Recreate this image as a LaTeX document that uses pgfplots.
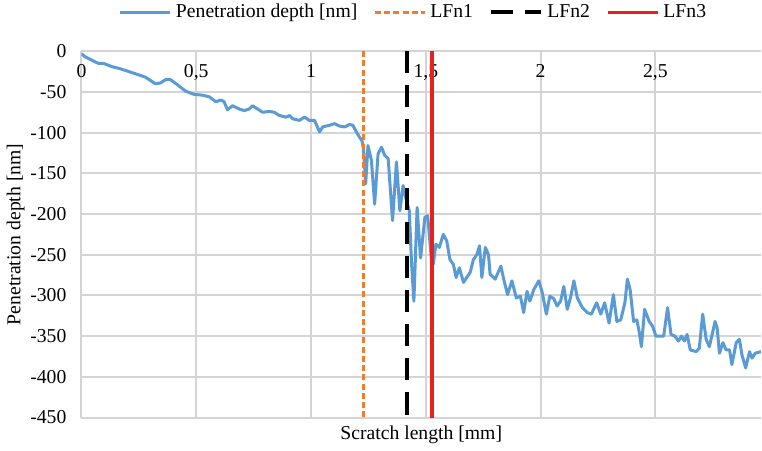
\documentclass[border=0pt]{standalone}
\usepackage{fontspec}
\setmainfont{Liberation Serif}
\usepackage{pgfplots}
\pgfplotsset{compat=1.18}

\definecolor{depthblue}{RGB}{91,155,213}
\definecolor{lforange}{RGB}{237,125,49}
\definecolor{lfred}{RGB}{232,33,30}
\definecolor{gridgray}{RGB}{212,212,212}

\begin{document}
\begin{tikzpicture}
\begin{axis}[
    scale only axis,
    width=338.5pt, height=182.5pt,
    xmin=0, xmax=2.96, ymin=-450, ymax=0,
    font=\fontsize{9.8}{11}\selectfont,
    axis line style={draw=none},
    tick style={draw=none},
    xtick={0,0.5,1,1.5,2,2.5},
    xticklabels={0,{0,5},1,{1,5},2,{2,5}},
    xticklabel pos=upper,
    xticklabel style={anchor=north, yshift=-3pt},
    ytick={-450,-400,-350,-300,-250,-200,-150,-100,-50,0},
    yticklabels={-450,-400,-350,-300,-250,-200,-150,-100,-50,0},
    yticklabel style={xshift=-4pt},
    grid=major,
    major grid style={gridgray, line width=1pt},
    xlabel={Scratch length [mm]},
    ylabel={Penetration depth [nm]},
    xlabel style={at={(0.5,0)}, anchor=north, yshift=-0.5pt},
    ylabel style={yshift=-4pt},
    legend columns=4,
    legend style={draw=none, at={(0.49,1)}, anchor=south, yshift=13pt,
        font=\fontsize{9.8}{11}\selectfont, inner sep=0pt},
    /tikz/every even column/.append style={column sep=6pt},
    legend image code/.code={\draw[#1] (0pt,0pt) -- (25pt,0pt);},
]
\addplot[depthblue, line width=1.5pt, line join=round] coordinates {
(0,-3) (0.016,-7) (0.045,-11) (0.074,-15) (0.096,-15) (0.133,-19) (0.162,-21)
(0.206,-25) (0.249,-29) (0.279,-32) (0.322,-40) (0.344,-39) (0.366,-35) (0.388,-35)
(0.417,-41) (0.453,-49) (0.490,-53) (0.526,-54) (0.556,-56) (0.585,-62) (0.607,-60)
(0.621,-62) (0.636,-72) (0.658,-67) (0.687,-71) (0.709,-73) (0.731,-71) (0.745,-67)
(0.767,-71) (0.789,-75) (0.818,-74) (0.840,-75) (0.862,-79) (0.891,-81) (0.906,-79)
(0.920,-83) (0.949,-85) (0.971,-81) (0.993,-85) (1.015,-85) (1.037,-99) (1.051,-93)
(1.080,-91) (1.102,-89) (1.124,-92) (1.146,-93) (1.168,-90) (1.182,-91) (1.197,-99)
(1.212,-106) (1.222,-110) (1.229,-122) (1.238,-163) (1.248,-116) (1.263,-134)
(1.277,-188) (1.292,-126) (1.307,-118) (1.321,-128) (1.336,-132) (1.355,-208)
(1.372,-136) (1.387,-196) (1.401,-165) (1.416,-184) (1.428,-196) (1.438,-262)
(1.448,-307) (1.462,-192) (1.477,-254) (1.496,-204) (1.508,-202) (1.525,-258)
(1.532,-262) (1.544,-237) (1.559,-241) (1.576,-225) (1.591,-233) (1.605,-256)
(1.620,-262) (1.632,-278) (1.646,-266) (1.664,-284) (1.678,-278) (1.693,-272)
(1.707,-256) (1.722,-250) (1.734,-239) (1.744,-278) (1.759,-241) (1.773,-250)
(1.780,-274) (1.802,-280) (1.827,-264) (1.839,-280) (1.856,-299) (1.875,-282)
(1.894,-303) (1.912,-301) (1.926,-321) (1.941,-295) (1.953,-307) (1.970,-293)
(1.992,-282) (2.006,-295) (2.025,-323) (2.040,-301) (2.057,-304) (2.072,-313)
(2.087,-307) (2.101,-289) (2.116,-317) (2.130,-303) (2.145,-282) (2.160,-303)
(2.182,-315) (2.203,-321) (2.221,-323) (2.244,-309) (2.262,-323) (2.279,-309)
(2.298,-334) (2.317,-299) (2.332,-332) (2.349,-330) (2.367,-309) (2.378,-280)
(2.390,-293) (2.405,-332) (2.419,-330) (2.429,-344) (2.439,-363) (2.453,-317)
(2.473,-332) (2.488,-338) (2.502,-350) (2.536,-350) (2.553,-315) (2.568,-348)
(2.585,-350) (2.600,-356) (2.614,-350) (2.626,-356) (2.638,-348) (2.652,-367)
(2.677,-369) (2.691,-365) (2.706,-323) (2.721,-354) (2.735,-363) (2.760,-332)
(2.769,-340) (2.779,-371) (2.794,-358) (2.808,-367) (2.823,-367) (2.833,-385)
(2.852,-358) (2.866,-354) (2.877,-373) (2.893,-389) (2.910,-369) (2.921,-377)
(2.935,-371) (2.960,-369)
};
\addlegendentry{Penetration depth [nm]}
\addplot[lforange, line width=1.4pt, dash pattern=on 3pt off 1.6pt] coordinates {(1.229,0) (1.229,-450)};
\addlegendentry{LFn1}
\addplot[black, line width=2pt, dash pattern=on 11pt off 6pt] coordinates {(1.417,0) (1.417,-450)};
\addlegendentry{LFn2}
\addplot[lfred, line width=1.6pt] coordinates {(1.527,0) (1.527,-450)};
\addlegendentry{LFn3}
\end{axis}
\end{tikzpicture}
\end{document}
